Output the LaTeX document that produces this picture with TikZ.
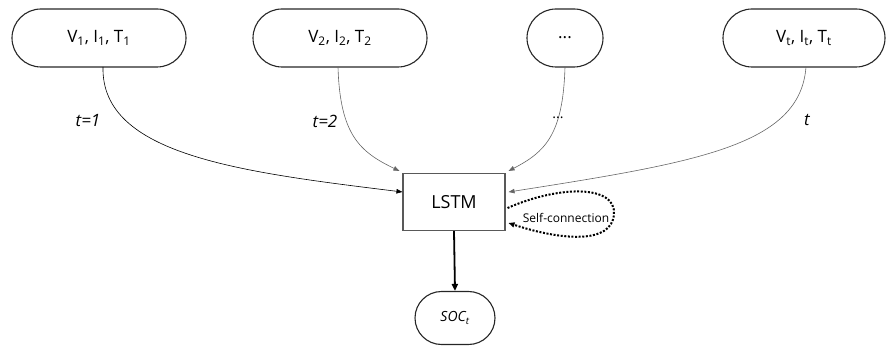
\documentclass[tikz,border=0pt]{standalone}
\usepackage{fontspec}
\setmainfont{Open Sans}
\usetikzlibrary{arrows.meta,shapes.misc}
\tikzset{
  inbox/.style={rounded rectangle, draw=black!85, line width=1.1pt, minimum height=58pt, inner sep=0pt, font=\fontsize{17}{20}\selectfont},
  lstmbox/.style={rectangle, draw=black!65, line width=1.1pt, minimum width=102pt, minimum height=57pt, inner sep=0pt, font=\fontsize{18}{20}\selectfont},
  socbox/.style={rounded rectangle, draw=black!85, line width=1.1pt, minimum width=80pt, minimum height=53pt, inner sep=0pt, font=\fontsize{14}{16}\selectfont\itshape},
  conn/.style={line width=0.6pt, -{Triangle[length=6pt,width=4.5pt]}},
  tlabel/.style={font=\fontsize{17}{20}\selectfont\itshape, inner sep=0pt},
  selfloop/.style={line width=2pt, dash pattern=on 2pt off 1.6pt, -{Triangle[length=6pt,width=5pt]}}
}
\begin{document}
\begin{tikzpicture}[x=1pt,y=-1pt]
\useasboundingbox (0,0) rectangle (887,350);
\node[inbox, minimum width=174pt] (n1) at (99,38) {V\textsubscript{1}, I\textsubscript{1}, T\textsubscript{1}};
\node[inbox, minimum width=174pt] (n2) at (340,38) {V\textsubscript{2}, I\textsubscript{2}, T\textsubscript{2}};
\node[inbox, minimum width=76pt] (n3) at (565,38) {...};
\node[inbox, minimum width=162pt] (n4) at (804,38) {V\textsubscript{t}, I\textsubscript{t}, T\textsubscript{t}};
\node[lstmbox] (lstm) at (454,202) {LSTM};
\node[socbox] (soc) at (455,318) {SOC\textsubscript{t}};
\coordinate (c1) at (103,67);
\coordinate (c2) at (338,67);
\coordinate (c3) at (565,67);
\coordinate (c4) at (806,67);
\draw[conn, black] (c1) .. controls (101,155) and (240,172) .. ([yshift=10pt]lstm.west);
\draw[conn, black!60] (c2) .. controls (340,135) and (360,152) .. ([xshift=-3pt,yshift=2pt]lstm.north west);
\draw[conn, black!60] (c3) .. controls (563,135) and (545,152) .. ([xshift=3pt,yshift=2pt]lstm.north east);
\draw[conn, black!60] (c4) .. controls (800,145) and (700,162) .. ([xshift=3pt,yshift=10pt]lstm.east);
\node[tlabel] (l1) at (88,121) {t=1};
\node[tlabel] (l2) at (325,121) {t=2};
\node[tlabel, font=\fontsize{14}{16}\selectfont] (l3) at (558,118) {...};
\node[tlabel] (l4) at (807,120) {t};
\draw[line width=1.8pt, -{Triangle[length=7pt,width=6pt]}] (lstm.south) -- (soc.north);
\draw[selfloop] ([xshift=2pt,yshift=-6pt]lstm.east) .. controls (560,185) and (616,185) .. (614,214) .. controls (612,245) and (560,240) .. ([xshift=3pt,yshift=-21pt]lstm.east);
\node[font=\fontsize{12}{14}\selectfont, inner sep=0pt] (sc) at (566,218) {Self-connection};
\end{tikzpicture}
\end{document}
